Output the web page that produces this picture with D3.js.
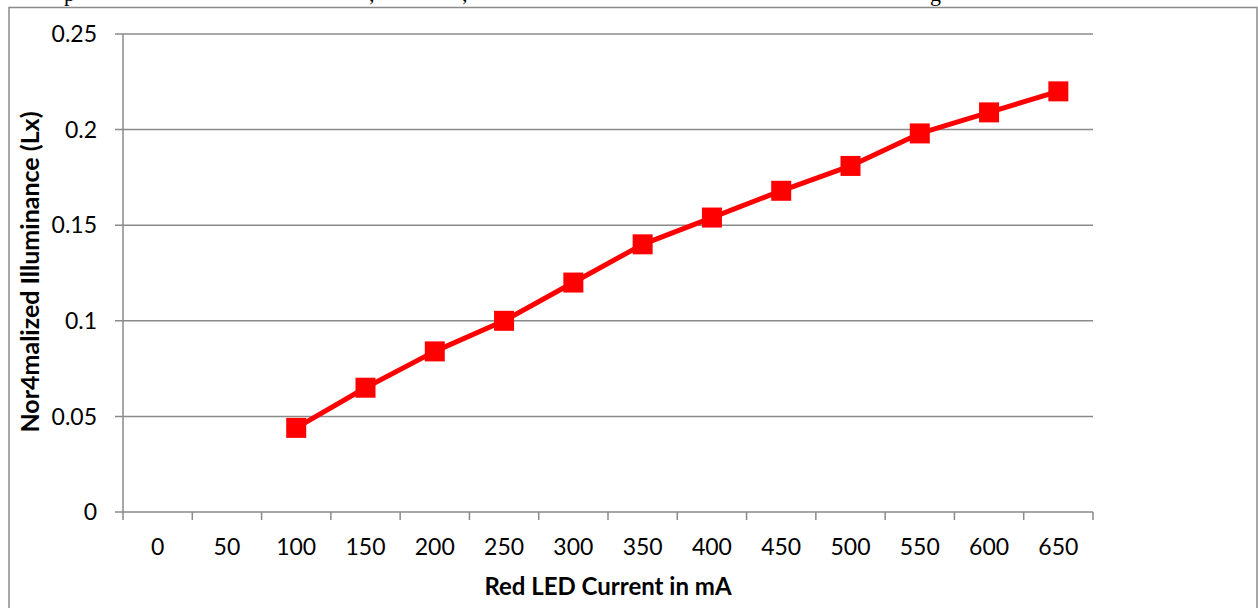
<!DOCTYPE html>
<html><head><meta charset="utf-8">
<script src="https://cdn.jsdelivr.net/npm/d3@7"></script>
<style>
html,body{margin:0;padding:0;background:#fff;}
svg{display:block;}
text{font-family:Lato,"Open Sans",sans-serif;}
</style></head>
<body><svg id="c" width="1258" height="608"></svg>
<script>
const categories = [0,50,100,150,200,250,300,350,400,450,500,550,600,650];
const seriesX = [100,150,200,250,300,350,400,450,500,550,600,650];
const seriesY = [0.044,0.065,0.084,0.100,0.120,0.140,0.154,0.168,0.181,0.198,0.209,0.220];
const yTicks = [0,0.05,0.1,0.15,0.2,0.25];
const yTickLabels = ["0","0.05","0.1","0.15","0.2","0.25"];
const xTitle = "Red LED Current in mA";
const yTitle = "Nor4malized Illuminance (Lx)";

const svg = d3.select("#c");
const grey = "#8a8a8a";
const x = d3.scaleBand().domain(categories).range([123,1093]).padding(0);
const y = d3.scaleLinear().domain([0,0.25]).range([512,34]);

// clipped text fragments of the line above the chart (only descenders visible)
const frag = [["p",64],[",",369],[",",462],["g",930]];
svg.selectAll("text.frag").data(frag).enter().append("text")
  .attr("class","frag").attr("x",d=>d[1]).attr("y",1)
  .style("font-family","'Liberation Serif','Times New Roman',serif")
  .style("font-size","22px").attr("fill","#000").text(d=>d[0]);

// outer border
svg.append("rect").attr("x",9).attr("y",7.5).attr("width",1248).attr("height",620)
  .attr("fill","none").attr("stroke",grey).attr("stroke-width",1.5);

// gridlines
svg.append("g").selectAll("line").data(yTicks).enter().append("line")
  .attr("x1",115).attr("x2",1093)
  .attr("y1",d=>y(d)).attr("y2",d=>y(d))
  .attr("stroke",grey).attr("stroke-width",1.5);

// y axis line
svg.append("line").attr("x1",123).attr("x2",123).attr("y1",y(0.25)).attr("y2",y(0))
  .attr("stroke",grey).attr("stroke-width",1.5);

// y labels
svg.append("g").selectAll("text").data(yTicks).enter().append("text")
  .attr("x",97).attr("y",d=>y(d)).attr("dy","0.36em").attr("text-anchor","end")
  .style("font-size","23px").attr("fill","#000")
  .text((d,i)=>yTickLabels[i]);

// x ticks at band boundaries
const bounds = categories.map(c=>x(c)).concat([x(categories[categories.length-1])+x.bandwidth()]);
svg.append("g").selectAll("line").data(bounds).enter().append("line")
  .attr("x1",d=>d).attr("x2",d=>d).attr("y1",y(0)).attr("y2",y(0)+8)
  .attr("stroke",grey).attr("stroke-width",1.5);

// x labels
svg.append("g").selectAll("text").data(categories).enter().append("text")
  .attr("x",d=>x(d)+x.bandwidth()/2).attr("y",555).attr("text-anchor","middle")
  .style("font-size","23px").attr("fill","#000").text(d=>d);

// titles
svg.append("text").attr("x",608).attr("y",595).attr("text-anchor","middle")
  .style("font-size","24px").style("font-weight","bold").attr("fill","#000").text(xTitle);
svg.append("text").attr("transform","translate(39,272) rotate(-90)").attr("text-anchor","middle")
  .style("font-size","25px").style("font-weight","bold").attr("fill","#000").text(yTitle);

// series
const pts = seriesX.map((v,i)=>({x:v,y:seriesY[i]}));
const line = d3.line().x(d=>x(d.x)+x.bandwidth()/2).y(d=>y(d.y));
svg.append("path").datum(pts).attr("d",line).attr("fill","none")
  .attr("stroke","#ff0000").attr("stroke-width",5).attr("stroke-linejoin","round");
svg.append("g").selectAll("rect").data(pts).enter().append("rect")
  .attr("x",d=>x(d.x)+x.bandwidth()/2-10).attr("y",d=>y(d.y)-10)
  .attr("width",20).attr("height",20).attr("fill","#ff0000");
</script></body></html>
